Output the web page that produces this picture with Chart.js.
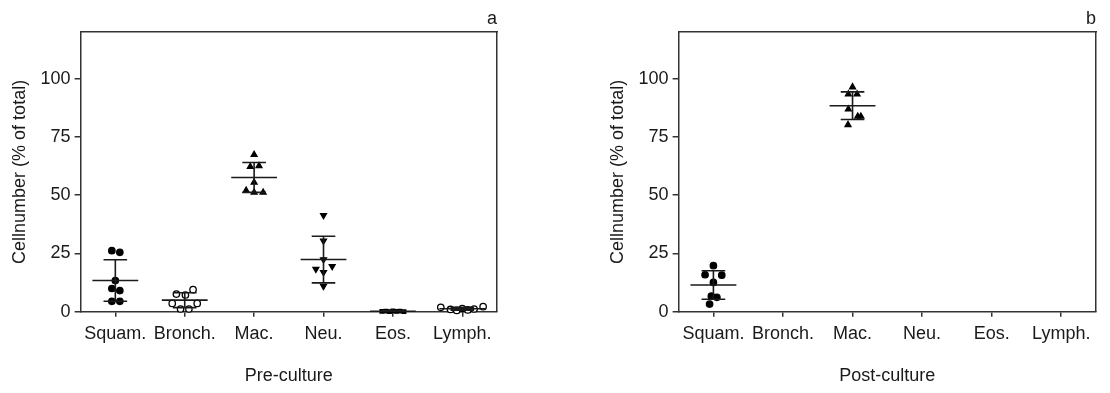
<!DOCTYPE html>
<html>
<head>
<meta charset="utf-8">
<script src="https://cdn.jsdelivr.net/npm/chart.js@4"></script>
<style>
  body { margin: 0; background: #fff; }
  .panel { position: absolute; top: 0; width: 555px; height: 393px; }
</style>
</head>
<body>
<div class="panel" style="left:0"><canvas id="preChart"></canvas></div>
<div class="panel" style="left:555px"><canvas id="postChart"></canvas></div>
<script>
// categories and tick labels
const categories = ['Squam.', 'Bronch.', 'Mac.', 'Neu.', 'Eos.', 'Lymph.'];
const yTicks = [0, 25, 50, 75, 100];

// pre-culture: individual samples (% of total) and their horizontal spread
const preSquam = [26.2, 25.5, 13.4, 10.0, 9.1, 4.5, 4.5];
const preSquamJitter = [-0.05, 0.065, 0, -0.05, 0.065, -0.05, 0.065];
const preBronch = [7.6, 7.2, 9.5, 3.6, 3.6, 1.2, 1.2];
const preBronchJitter = [-0.12, 0.01, 0.12, -0.18, 0.18, -0.06, 0.06];
const preMac = [67.4, 62.2, 62.6, 55.5, 52.0, 51.2, 51.2];
const preMacJitter = [0, -0.055, 0.07, 0, -0.115, 0, 0.13];
const preNeu = [41.4, 30.4, 22.4, 18.3, 19.5, 16.9, 11.0];
const preNeuJitter = [0, 0, 0, -0.11, 0.125, 0, 0];
const preEos = [0.2, 0.3, 0.1, 0.4, 0.2, 0.3, 0.1];
const preEosJitter = [-0.16, -0.1, -0.05, 0, 0.05, 0.1, 0.16];
const preLymph = [1.9, 1.0, 0.6, 1.4, 0.8, 1.2, 2.2];
const preLymphJitter = [-0.31, -0.17, -0.08, 0, 0.08, 0.17, 0.3];
const preMean = [13.4, 5.0, 57.6, 22.4, 0.25, 1.3];
const preSD = [8.9, 3.2, 6.4, 10.0, 0.15, 0.6];

// post-culture
const postSquam = [19.8, 15.9, 15.7, 12.6, 6.7, 6.2, 3.3];
const postSquamJitter = [0, -0.12, 0.12, 0, -0.03, 0.05, -0.055];
const postMac = [96.4, 93.3, 93.3, 86.9, 83.8, 83.8, 80.2];
const postMacJitter = [0, -0.06, 0.065, -0.06, 0.075, 0.12, -0.065];
const postMean = [11.5, null, 88.4, null, null, null];
const postSD = [6.1, null, 5.9, null, null, null];

const ink = '#1a1a1a';
const axisColor = '#333';
Chart.defaults.font.family = "'Liberation Sans', Arial, sans-serif";
Chart.defaults.font.size = 18;
Chart.defaults.color = ink;

const markers = [
  { pointStyle: 'circle', pointRadius: 3.2, pointBackgroundColor: '#000' },
  { pointStyle: 'circle', pointRadius: 3.2, pointBackgroundColor: '#fff' },
  { pointStyle: 'triangle', pointRadius: 3.4, pointBackgroundColor: '#000' },
  { pointStyle: 'triangle', pointRadius: 3.4, pointBackgroundColor: '#000', pointRotation: 180 },
  { pointStyle: 'rect', pointRadius: 2.5, pointBackgroundColor: '#000' },
  { pointStyle: 'circle', pointRadius: 3.2, pointBackgroundColor: '#fff' }
];

function pointsDataset(catIndex, values, jitter) {
  return Object.assign({
    type: 'scatter',
    data: values.map((v, k) => ({ x: catIndex + jitter[k], y: v })),
    pointBorderColor: '#000',
    pointBorderWidth: 1.3,
    showLine: false,
    clip: false,
    order: 2
  }, markers[catIndex]);
}

function errorBarDataset(mean, sd) {
  const pts = [];
  mean.forEach((m, i) => {
    if (m == null) return;
    const hi = m + sd[i], lo = Math.max(m - sd[i], 0);
    pts.push({ x: i - 0.33, y: m }, { x: i + 0.33, y: m }, { x: i, y: null });
    pts.push({ x: i - 0.17, y: hi }, { x: i + 0.17, y: hi }, { x: i, y: null });
    pts.push({ x: i - 0.17, y: lo }, { x: i + 0.17, y: lo }, { x: i, y: null });
    pts.push({ x: i, y: lo }, { x: i, y: hi }, { x: i, y: null });
  });
  return {
    type: 'scatter',
    data: pts,
    showLine: true,
    spanGaps: false,
    borderColor: ink,
    borderWidth: 1.6,
    pointRadius: 0,
    clip: false,
    order: 1
  };
}

function makePanel(id, datasets, letter, xTitle, padLeft, padRight) {
  new Chart(document.getElementById(id), {
    type: 'scatter',
    data: { datasets: datasets },
    options: {
      responsive: true,
      maintainAspectRatio: false,
      animation: false,
      layout: { padding: { left: padLeft, right: padRight, top: 0, bottom: 6 } },
      plugins: {
        legend: { display: false },
        tooltip: { enabled: false },
        title: {
          display: true,
          text: letter,
          align: 'end',
          color: ink,
          font: { size: 18, weight: 'normal' },
          padding: { top: 8, bottom: 2.4 }
        }
      },
      scales: {
        x: {
          type: 'linear',
          min: -0.5,
          max: 5.5,
          afterBuildTicks: (scale) => { scale.ticks = categories.map((c, i) => ({ value: i })); },
          ticks: { callback: (v) => categories[v], padding: 6, color: ink, maxRotation: 0 },
          grid: { display: true, drawOnChartArea: false, drawTicks: true, tickLength: 5, color: axisColor, lineWidth: 1.5 },
          border: { color: axisColor, width: 1.5 },
          title: { display: true, text: xTitle, color: ink, padding: { top: 15, bottom: 0 } }
        },
        y: {
          type: 'linear',
          min: 0,
          max: 120,
          afterBuildTicks: (scale) => { scale.ticks = yTicks.map((v) => ({ value: v })); },
          ticks: { padding: 4, color: ink },
          grid: { display: true, drawOnChartArea: false, drawTicks: true, tickLength: 6, color: axisColor, lineWidth: 1.5 },
          border: { color: axisColor, width: 1.5 },
          title: { display: true, text: 'Cellnumber (% of total)', color: ink, padding: { top: 8, bottom: 6 } }
        },
        xTop: {
          type: 'linear', position: 'top', min: -0.5, max: 5.5,
          ticks: { display: false },
          grid: { display: false, drawTicks: false },
          border: { color: axisColor, width: 1.5 }
        },
        yRight: {
          type: 'linear', position: 'right', min: 0, max: 120,
          ticks: { display: false },
          grid: { display: false, drawTicks: false },
          border: { color: axisColor, width: 1.5 }
        }
      }
    }
  });
}

makePanel('preChart', [
  errorBarDataset(preMean, preSD),
  pointsDataset(0, preSquam, preSquamJitter),
  pointsDataset(1, preBronch, preBronchJitter),
  pointsDataset(2, preMac, preMacJitter),
  pointsDataset(3, preNeu, preNeuJitter),
  pointsDataset(4, preEos, preEosJitter),
  pointsDataset(5, preLymph, preLymphJitter)
], 'a', 'Pre-culture', 1, 58);

makePanel('postChart', [
  errorBarDataset(postMean, postSD),
  pointsDataset(0, postSquam, postSquamJitter),
  pointsDataset(2, postMac, postMacJitter)
], 'b', 'Post-culture', 44, 14);
</script>
</body>
</html>
